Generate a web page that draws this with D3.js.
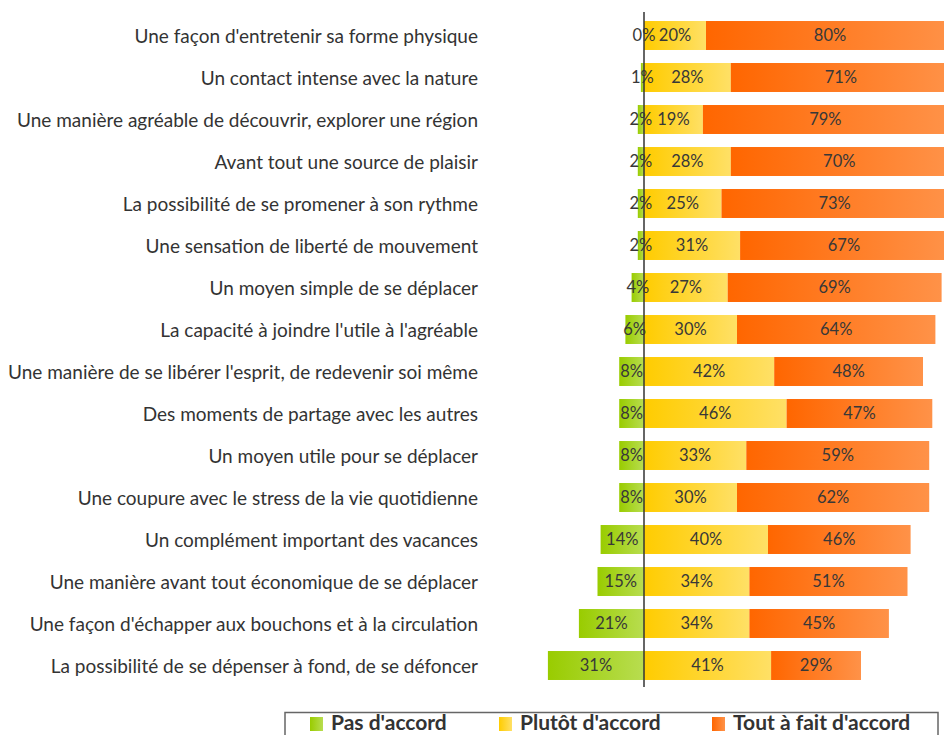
<!DOCTYPE html>
<html><head><meta charset="utf-8">
<script src="https://cdn.jsdelivr.net/npm/d3@7"></script>
<style>body{margin:0;background:#fff;} svg{display:block;}</style>
</head><body>
<svg id="chart" width="944" height="735"></svg>
<script>
const categories = [
  "Une façon d'entretenir sa forme physique",
  "Un contact intense avec la nature",
  "Une manière agréable de découvrir, explorer une région",
  "Avant tout une source de plaisir",
  "La possibilité de se promener à son rythme",
  "Une sensation de liberté de mouvement",
  "Un moyen simple de se déplacer",
  "La capacité à joindre l'utile à l'agréable",
  "Une manière de se libérer l'esprit, de redevenir soi même",
  "Des moments de partage avec les autres",
  "Un moyen utile pour se déplacer",
  "Une coupure avec le stress de la vie quotidienne",
  "Un complément important des vacances",
  "Une manière avant tout économique de se déplacer",
  "Une façon d'échapper aux bouchons et à la circulation",
  "La possibilité de se dépenser à fond, de se défoncer"
];
const pasDaccord    = [0, 1, 2, 2, 2, 2, 4, 6, 8, 8, 8, 8, 14, 15, 21, 31];
const plutotDaccord = [20, 28, 19, 28, 25, 31, 27, 30, 42, 46, 33, 30, 40, 34, 34, 41];
const toutAFait     = [80, 71, 79, 70, 73, 67, 69, 64, 48, 47, 59, 62, 46, 51, 45, 29];
const seriesNames = ["Pas d'accord", "Plutôt d'accord", "Tout à fait d'accord"];

const svg = d3.select("#chart");
const x = d3.scaleLinear().domain([0, 100]).range([644, 954]);
const y = d3.scaleBand().domain(categories).range([14.5, 686.5]).paddingInner(0.31).paddingOuter(0.155);

const grads = [["#99CC00", "#B8DD50"], ["#FFCC00", "#FFE066"], ["#FF6600", "#FF9248"]];
const defs = svg.append("defs");
grads.forEach((g, i) => {
  const lg = defs.append("linearGradient").attr("id", "g" + i)
    .attr("x1", "0").attr("x2", "1").attr("y1", "0").attr("y2", "0");
  lg.append("stop").attr("offset", "0").attr("stop-color", g[0]);
  lg.append("stop").attr("offset", "1").attr("stop-color", g[1]);
});

const rows = categories.map((c, i) => ({
  cat: c,
  segs: [
    {s: 0, x0: -pasDaccord[i], x1: 0, v: pasDaccord[i]},
    {s: 1, x0: 0, x1: plutotDaccord[i], v: plutotDaccord[i]},
    {s: 2, x0: plutotDaccord[i], x1: plutotDaccord[i] + toutAFait[i], v: toutAFait[i]}
  ]
}));

const g = svg.append("g");
const rowG = g.selectAll("g.row").data(rows).join("g").attr("class", "row")
  .attr("transform", d => `translate(0,${y(d.cat)})`);

rowG.selectAll("rect").data(d => d.segs.filter(s => s.v > 0)).join("rect")
  .attr("x", s => x(s.x0)).attr("width", s => x(s.x1) - x(s.x0))
  .attr("y", 0).attr("height", y.bandwidth())
  .attr("fill", s => `url(#g${s.s})`);

rowG.selectAll("text.val").data(d => d.segs).join("text").attr("class", "val")
  .attr("x", s => (x(s.x0) + x(s.x1)) / 2)
  .attr("y", y.bandwidth() / 2)
  .attr("dy", "0.36em")
  .attr("text-anchor", "middle")
  .attr("font-family", "Lato, 'Open Sans', sans-serif")
  .attr("font-size", 16.5)
  .attr("fill", "#383838")
  .text(s => s.v + "%");

// category axis
const yAxis = d3.axisLeft(y).tickSize(0).tickPadding(0);
const ax = svg.append("g").attr("transform", "translate(478,1.5)").call(yAxis);
ax.select(".domain").remove();
ax.selectAll("text").attr("font-family", "Lato, 'Open Sans', sans-serif")
  .attr("font-size", 19).attr("fill", "#333");

// zero line
svg.append("line").attr("x1", x(0)).attr("x2", x(0)).attr("y1", 12).attr("y2", 687)
  .attr("stroke", "#333").attr("stroke-width", 1.5);

// legend
const leg = svg.append("g");
leg.append("rect").attr("x", 285).attr("y", 712.5).attr("width", 653).attr("height", 40)
  .attr("fill", "none").attr("stroke", "#666").attr("stroke-width", 1.5);
const legX = [310, 499, 712];
seriesNames.forEach((n, i) => {
  leg.append("rect").attr("x", legX[i]).attr("y", 717).attr("width", 13).attr("height", 14)
    .attr("fill", `url(#g${i})`);
  leg.append("text").attr("x", legX[i] + 21).attr("y", 730)
    .attr("font-family", "Lato, 'Open Sans', sans-serif").attr("font-weight", "bold")
    .attr("font-size", 21).attr("fill", "#333").text(n);
});
</script>
</body></html>
